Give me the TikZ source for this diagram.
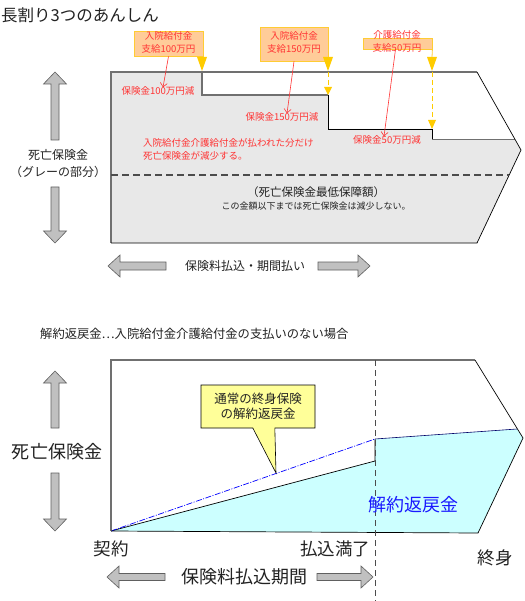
\documentclass[tikz,border=0pt]{standalone}
\usepackage{fontspec}
\setmainfont{Noto Sans CJK JP}
\usetikzlibrary{arrows.meta,shapes.callouts}
\definecolor{redtxt}{HTML}{FF3333}
\definecolor{boxfill}{HTML}{FFCC99}
\definecolor{boxline}{HTML}{FFCC33}
\definecolor{tri}{HTML}{FFCC00}
\definecolor{grayfill}{HTML}{E8E8E8}
\definecolor{arrowfill}{HTML}{C0C0C0}
\definecolor{arrowline}{HTML}{606060}
\definecolor{cyanfill}{HTML}{CCFFFF}
\definecolor{calloutfill}{HTML}{FFFF99}
\definecolor{bluetxt}{HTML}{1A1AFF}
\definecolor{txt}{HTML}{222222}
\definecolor{edgegray}{HTML}{707070}
\begin{document}
\begin{tikzpicture}[x=1pt,y=-1pt,
  redlbl/.style={text=redtxt,font=\fontsize{9.5}{13}\selectfont,inner sep=0pt,align=center},
  kbox/.style={fill=boxfill,draw=boxline,line width=0.8pt,inner sep=0pt},
  tritip/.style={fill=tri,draw=none},
  ydash/.style={draw=tri,line width=1pt,dash pattern=on 5pt off 3pt},
  redarrow/.style={draw=redtxt,line width=0.6pt,-{Straight Barb[length=4pt,width=7pt]}},
  blockarrow/.style={fill=arrowfill,draw=arrowline,line width=0.6pt},
  plain/.style={text=txt,inner sep=0pt,align=center},
]
\useasboundingbox (0,0) rectangle (524,601);
\fill[white] (0,0) rectangle (524,601);

% ---------- title
\node[plain,anchor=west,font=\fontsize{16.5}{18}\selectfont] (title) at (1,15) {長割り3つのあんしん};

% ---------- top chart
\fill[white] (111,72) -- (477,72) -- (521,150) -- (477,243) -- (111,243) -- cycle;
\fill[grayfill] (111,72) -- (202,72) -- (202,95) -- (328,95) -- (328,129) -- (432,129) -- (432,140) -- (515,140) -- (521,150) -- (477,243) -- (111,243) -- cycle;
\draw[edgegray,line width=1.4pt] (202,72) -- (202,95) -- (328,95);
\draw[black,line width=0.8pt] (328,95) -- (328,129) -- (432,129) -- (432,140);
\draw[edgegray,line width=1pt] (432,140) -- (515,140);
\draw[edgegray,line width=1.2pt] (477,72) -- (111,72) -- (111,243);
\draw[black,line width=0.7pt] (111,243) -- (477,243) -- (521,150) -- (477,72);
\draw[draw=black!70,line width=1.1pt,dash pattern=on 7pt off 4pt] (111,175) -- (509,175);

% boxes
\node[kbox,minimum width=69pt,minimum height=25pt] (b1) at (168.5,43.5) {};
\node[redlbl] (b1t) at (168.5,42.5) {入院給付金\\支給100万円};
\node[kbox,minimum width=68pt,minimum height=34pt] (b2) at (294,44) {};
\node[redlbl] (b2t) at (294,42) {入院給付金\\支給150万円};
\node[kbox,minimum width=69pt,minimum height=11pt] (b3) at (397.5,43.5) {};
\node[redlbl] (b3t) at (397,41.5) {介護給付金\\支給50万円};
\draw[boxline,line width=0.8pt] (b3.south east) -- (432,57);

% yellow markers
\fill[tritip] (197,57) -- (207,57) -- (202,71) -- cycle;
\fill[tritip] (323,57) -- (333,57) -- (328,71) -- cycle;
\draw[ydash] (328,72) -- (328,87);
\fill[tritip] (324,87) -- (332,87) -- (328,95) -- cycle;
\fill[tritip] (427,57) -- (437,57) -- (432,71) -- cycle;
\draw[ydash] (432,72) -- (432,120);
\fill[tritip] (428,120) -- (436,120) -- (432,129) -- cycle;

% red labels
\node[redlbl] (l1) at (158,91) {保険金100万円減};
\node[redlbl] (l2) at (282,117) {保険金150万円減};
\node[redlbl] (l3) at (387,140) {保険金50万円減};
\node[redlbl,anchor=west,align=left] (l4) at (143,149.5) {入院給付金介護給付金が払われた分だけ\\死亡保険金が減少する。};
\draw[redarrow] (b1.south) -- ([xshift=5pt,yshift=-1pt]l1.north);
\draw[redarrow] (b2.south) -- ([xshift=5pt,yshift=-1pt]l2.north);
\draw[redarrow] ([xshift=-2pt]b3.south) -- ([xshift=-3pt,yshift=-1pt]l3.north);

\node[plain,font=\fontsize{11.5}{13}\selectfont] (minimum) at (316,192) {（死亡保険金最低保障額）};
\node[plain,font=\fontsize{9}{10}\selectfont] (minnote) at (316,206) {この金額以下までは死亡保険金は減少しない。};

% left arrows + label
\draw[blockarrow] (55,72) -- (66.5,84) -- (59,84) -- (59,140) -- (51,140) -- (51,84) -- (43.5,84) -- cycle;
\draw[blockarrow] (51,187) -- (59,187) -- (59,231) -- (66.5,231) -- (55,243) -- (43.5,231) -- (51,231) -- cycle;
\node[plain,font=\fontsize{12}{17}\selectfont] (dlbl) at (58,163.5) {死亡保険金\\（グレーの部分）};

% horizontal arrows + label
\draw[blockarrow] (108,266) -- (120,255) -- (120,262) -- (166,262) -- (166,270) -- (120,270) -- (120,277) -- cycle;
\draw[blockarrow] (318,262) -- (358,262) -- (358,255) -- (370,266) -- (358,277) -- (358,270) -- (318,270) -- cycle;
\node[plain,font=\fontsize{12}{14}\selectfont] (paylbl) at (245,266) {保険料払込・期間払い};

% ---------- bottom chart
\node[plain,anchor=west,font=\fontsize{12.3}{14}\selectfont] (sub) at (40,334) {解約返戻金⋯入院給付金介護給付金の支払いのない場合};

\fill[white] (111,360) -- (475,360) -- (523,438) -- (478,533) -- (111,531) -- cycle;
\fill[cyanfill] (111,531) -- (375,461) -- (375,439) -- (517,429) -- (523,438) -- (478,533) -- cycle;
\draw[black,line width=0.7pt] (111,531) -- (375,461) -- (375,439);
\draw[blue!40!black,line width=0.6pt] (375,439) -- (517,429);
\draw[blue,line width=0.7pt,dash pattern=on 6pt off 1.5pt on 1pt off 1.5pt] (111,531) -- (375,439);
\draw[edgegray,line width=1.1pt] (475,360) -- (111,360) -- (111,531);
\draw[black,line width=0.7pt] (111,531) -- (478,533) -- (523,438) -- (475,360);
\draw[draw=black!70,line width=1pt,dash pattern=on 6pt off 4pt] (375,360) -- (375,601);

\node[rectangle callout,fill=calloutfill,draw=black,line width=0.6pt,
  minimum width=114pt,minimum height=43pt,inner sep=0pt,align=center,text=txt,
  callout pointer width=22pt,callout absolute pointer={(276,473)},
  font=\fontsize{12.5}{15}\selectfont] (co) at (258,406.5) {通常の終身保険\\の解約返戻金};

\node[inner sep=0pt,text=bluetxt,font=\fontsize{18}{20}\selectfont] (cv) at (413,505) {解約返戻金};

\draw[blockarrow] (55,371) -- (66.5,383) -- (59,383) -- (59,428) -- (51,428) -- (51,383) -- (43.5,383) -- cycle;
\draw[blockarrow] (51,473) -- (59,473) -- (59,519) -- (66.5,519) -- (55,531) -- (43.5,519) -- (51,519) -- cycle;
\node[plain,font=\fontsize{18}{20}\selectfont] (dlbl2) at (57,452) {死亡保険金};

\node[plain,font=\fontsize{17.5}{20}\selectfont] (start) at (111,549) {契約};
\node[plain,font=\fontsize{17.5}{20}\selectfont] (paid) at (335,549) {払込満了};
\node[plain,font=\fontsize{17.5}{20}\selectfont] (life) at (495,558) {終身};

\draw[blockarrow] (107,577) -- (119,566) -- (119,573.5) -- (165,573.5) -- (165,580.5) -- (119,580.5) -- (119,588) -- cycle;
\draw[blockarrow] (317,573.5) -- (361,573.5) -- (361,566) -- (373,577) -- (361,588) -- (361,580.5) -- (317,580.5) -- cycle;
\node[plain,font=\fontsize{18}{20}\selectfont] (paylbl2) at (244,577) {保険料払込期間};
\end{tikzpicture}
\end{document}
